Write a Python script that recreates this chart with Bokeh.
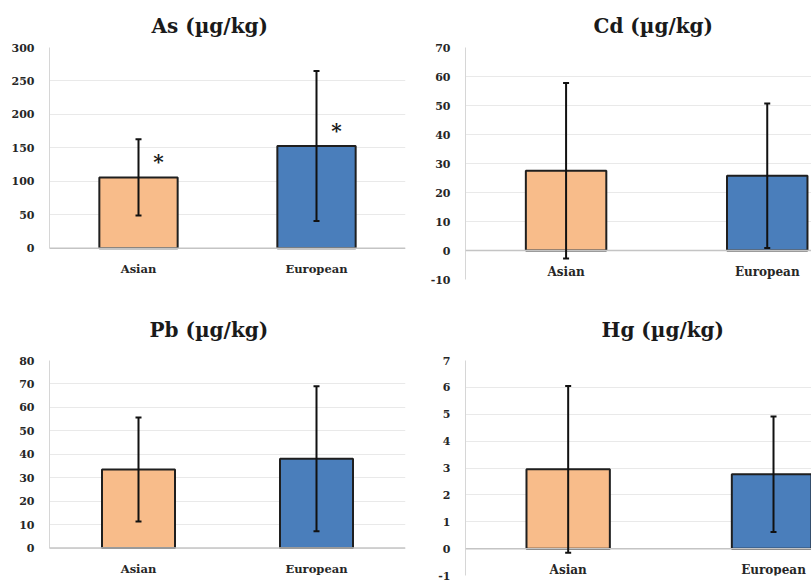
from bokeh.plotting import figure
from bokeh.layouts import row, column
from bokeh.models import ColumnDataSource, Range1d, FixedTicker, Whisker, TeeHead, Span
from bokeh.core.properties import value
from bokeh.embed import file_html
from bokeh.resources import INLINE

# ---------------- data ----------------
categories = ["Asian", "European"]
bar_colors = ["#F8BC8A", "#4A7EBB"]

as_mean = [106, 153]
as_sd = [57, 112]
as_sig = ["*", "*"]
as_ticks = [0, 50, 100, 150, 200, 250, 300]

cd_mean = [27.5, 25.8]
cd_sd = [30.3, 24.9]
cd_ticks = [-10, 0, 10, 20, 30, 40, 50, 60, 70]

pb_mean = [33.5, 38.1]
pb_sd = [22.2, 30.9]
pb_ticks = [0, 10, 20, 30, 40, 50, 60, 70, 80]

hg_mean = [2.95, 2.77]
hg_sd = [3.1, 2.15]
hg_ticks = [-1, 0, 1, 2, 3, 4, 5, 6, 7]

FONT = "DejaVu Serif"
TXT = "#262626"


def make_panel(title, means, sds, ticks, width, height, borders, bar_width,
               x_end, y_start, title_offset, title_standoff, sig=None,
               cat_size="12px"):
    bl, br, bt, bb = borders
    xs = [i + 0.5 for i in range(len(categories))]
    src = ColumnDataSource(dict(
        x=xs, mean=means, cat=categories, color=bar_colors,
        upper=[m + s for m, s in zip(means, sds)],
        lower=[m - s for m, s in zip(means, sds)],
        zero=[0] * len(xs),
    ))
    p = figure(width=width, height=height,
               x_range=Range1d(0, x_end),
               y_range=Range1d(min(y_start, ticks[0]), ticks[-1]),
               output_backend="svg", toolbar_location=None,
               x_axis_location=None,
               min_border_left=bl, min_border_right=br,
               min_border_top=bt, min_border_bottom=bb)
    p.outline_line_color = None
    p.background_fill_color = "white"
    p.border_fill_color = "white"

    # title
    p.title.text = title
    p.title.align = "left"
    p.title.offset = title_offset
    p.title.text_font = FONT
    p.title.text_font_size = "20px"
    p.title.text_font_style = "bold"
    p.title.text_color = "#1a1a1a"
    p.title.standoff = title_standoff

    # y axis
    p.yaxis.ticker = FixedTicker(ticks=ticks)
    p.yaxis.major_label_overrides = {t: str(t) for t in ticks}
    p.yaxis.bounds = (ticks[0], ticks[-1])
    p.yaxis.major_tick_line_color = None
    p.yaxis.minor_tick_line_color = None
    p.yaxis.axis_line_color = "#d6d6d6"
    p.yaxis.major_label_text_font = FONT
    p.yaxis.major_label_text_font_style = "bold"
    p.yaxis.major_label_text_font_size = "11px"
    p.yaxis.major_label_text_color = TXT
    p.yaxis.major_label_standoff = 9

    p.ygrid.ticker = FixedTicker(ticks=[t for t in ticks if t >= 0])
    p.ygrid.grid_line_color = "#e9e9e9"
    for g in p.xgrid:
        g.visible = False

    # horizontal (category) axis drawn at zero
    p.add_layout(Span(location=0, dimension="width",
                      line_color="#c4c4c4", line_width=1.5))
    p.text(x="x", y="zero", text="cat", source=src, y_offset=21,
           text_font=value(FONT), text_font_style="bold",
           text_font_size=cat_size, text_color=TXT,
           text_align="center", text_baseline="middle")

    p.vbar(x="x", top="mean", bottom=0, width=bar_width, source=src,
           fill_color="color", line_color="#1f1f1f", line_width=2)

    p.add_layout(Whisker(base="x", upper="upper", lower="lower", source=src,
                         level="annotation",
                         line_color="#111111", line_width=2,
                         upper_head=TeeHead(size=6, line_color="#111111", line_width=2),
                         lower_head=TeeHead(size=6, line_color="#111111", line_width=2)))

    if sig is not None:
        src.data["sig"] = sig
        p.text(x="x", y="mean", text="sig", source=src, x_offset=20, y_offset=-15,
               text_font=value(FONT), text_font_style="bold",
               text_font_size="20px", text_color="#1a1a1a",
               text_align="center", text_baseline="middle")
    return p


p_as = make_panel("As (\u00b5g/kg)", as_mean, as_sd, as_ticks, 415, 286,
                  (49, 10, 47, 7), 0.44, 2.0, -46.5, 102, 20, sig=as_sig,
                  cat_size="11.5px")
p_cd = make_panel("Cd (\u00b5g/kg)", cd_mean, cd_sd, cd_ticks, 396, 286,
                  (50, 0, 47, 7), 0.40, 1.72, -10, 128, 20)
p_pb = make_panel("Pb (\u00b5g/kg)", pb_mean, pb_sd, pb_ticks, 415, 295,
                  (49, 10, 74, 6), 0.41, 2.0, -11.7, 100, 37,
                  cat_size="11.5px")
p_hg = make_panel("Hg (\u00b5g/kg)", hg_mean, hg_sd, hg_ticks, 396, 295,
                  (50, 0, 74, 6), 0.406, 1.685, -1, 136, 37)

layout = column(row(p_as, p_cd), row(p_pb, p_hg))

with open("out.html", "w") as f:
    f.write(file_html(layout, INLINE))
